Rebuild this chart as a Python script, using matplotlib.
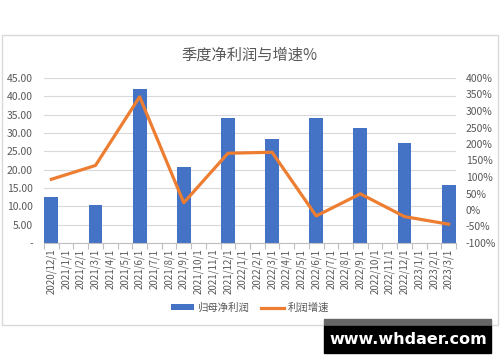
import matplotlib.pyplot as plt
import numpy as np
from matplotlib.patches import Rectangle

plt.rcParams['font.family'] = ['Noto Sans CJK SC', 'DejaVu Sans']

# months on the category axis
months = ["2020/12/1", "2021/1/1", "2021/2/1", "2021/3/1", "2021/4/1", "2021/5/1",
          "2021/6/1", "2021/7/1", "2021/8/1", "2021/9/1", "2021/10/1", "2021/11/1",
          "2021/12/1", "2022/1/1", "2022/2/1", "2022/3/1", "2022/4/1", "2022/5/1",
          "2022/6/1", "2022/7/1", "2022/8/1", "2022/9/1", "2022/10/1", "2022/11/1",
          "2022/12/1", "2023/1/1", "2023/2/1", "2023/3/1"]

# quarterly data
quarters = ["2020/12/1", "2021/3/1", "2021/6/1", "2021/9/1", "2021/12/1",
            "2022/3/1", "2022/6/1", "2022/9/1", "2022/12/1", "2023/3/1"]
net_profit = [12.5, 10.3, 42.0, 20.7, 34.0, 28.3, 34.0, 31.3, 27.3, 15.9]
growth = [93, 135, 343, 22, 172, 175, -18, 49, -20, -43]  # %

left_ticks = [0, 5, 10, 15, 20, 25, 30, 35, 40, 45]
left_labels = ["-", "5.00", "10.00", "15.00", "20.00", "25.00", "30.00", "35.00", "40.00", "45.00"]
right_ticks = [-100, -50, 0, 50, 100, 150, 200, 250, 300, 350, 400]
right_labels = [f"{v}%" for v in right_ticks]

gray = "#595959"
blue = "#4472C4"
orange = "#ED7D31"

fig = plt.figure(figsize=(5, 3.62), dpi=100)

# chart border
fig.patches.append(Rectangle((0.003, 1 - 325 / 362), 0.993, (325 - 35) / 362,
                             transform=fig.transFigure, fill=False,
                             edgecolor="#D9D9D9", linewidth=1))

ax = fig.add_axes([44 / 500, 1 - 243 / 362, 412 / 500, 165 / 362])
x = np.arange(len(months))
qx = [months.index(q) for q in quarters]

ax.bar(qx, net_profit, width=0.95, color=blue, zorder=2, label="归母净利润")
ax.set_xlim(-0.5, len(months) - 0.5)
ax.set_ylim(0, 45)
ax.set_yticks(left_ticks)
ax.set_yticklabels(left_labels)
ax.grid(axis="y", color="#D9D9D9", linewidth=0.8, zorder=0)
ax.set_axisbelow(True)

ax.set_xticks(x)
ax.set_xticklabels(months, rotation=90)
ax.set_xticks(np.arange(-0.5, len(months), 1), minor=True)
ax.tick_params(axis="x", which="major", length=0, pad=4, labelsize=7, labelcolor=gray)
ax.tick_params(axis="x", which="minor", length=4, color="#BFBFBF", width=0.8)
ax.tick_params(axis="y", length=0, labelsize=7.5, labelcolor=gray, pad=8)

for s in ["top", "right", "left"]:
    ax.spines[s].set_visible(False)
ax.spines["bottom"].set_color("#BFBFBF")

ax2 = ax.twinx()
ax2.plot(qx, growth, color=orange, linewidth=2.3, label="利润增速", zorder=3)
ax2.set_ylim(-100, 400)
ax2.set_yticks(right_ticks)
ax2.set_yticklabels(right_labels)
ax2.tick_params(axis="y", length=0, labelsize=7.5, labelcolor=gray, pad=7)
for s in ["top", "right", "left", "bottom"]:
    ax2.spines[s].set_visible(False)

fig.text(0.5, 1 - 55 / 362, "季度净利润与增速%", ha="center", va="center",
         fontsize=11, color=gray)

h1, l1 = ax.get_legend_handles_labels()
h2, l2 = ax2.get_legend_handles_labels()
fig.legend(h1 + h2, l1 + l2, loc="center", bbox_to_anchor=(0.5, 1 - 308 / 362),
           ncol=2, frameon=False, fontsize=7.5, labelcolor=gray,
           handlelength=2.2, handleheight=0.5, columnspacing=1.2, handletextpad=0.3)

# watermark
fig.patches.append(Rectangle((324 / 500, 1 - 326 / 362), 167 / 500, 7 / 362,
                             transform=fig.transFigure, color="#666666"))
fig.patches.append(Rectangle((324 / 500, 1 - 353 / 362), 167 / 500, 27 / 362,
                             transform=fig.transFigure, color="black"))
fig.text(408 / 500, 1 - 339.5 / 362, "www.whdaer.com", ha="center", va="center",
         fontsize=11.5, color="white", fontweight="bold", family="DejaVu Sans")

fig.savefig("out.png", dpi=100)
